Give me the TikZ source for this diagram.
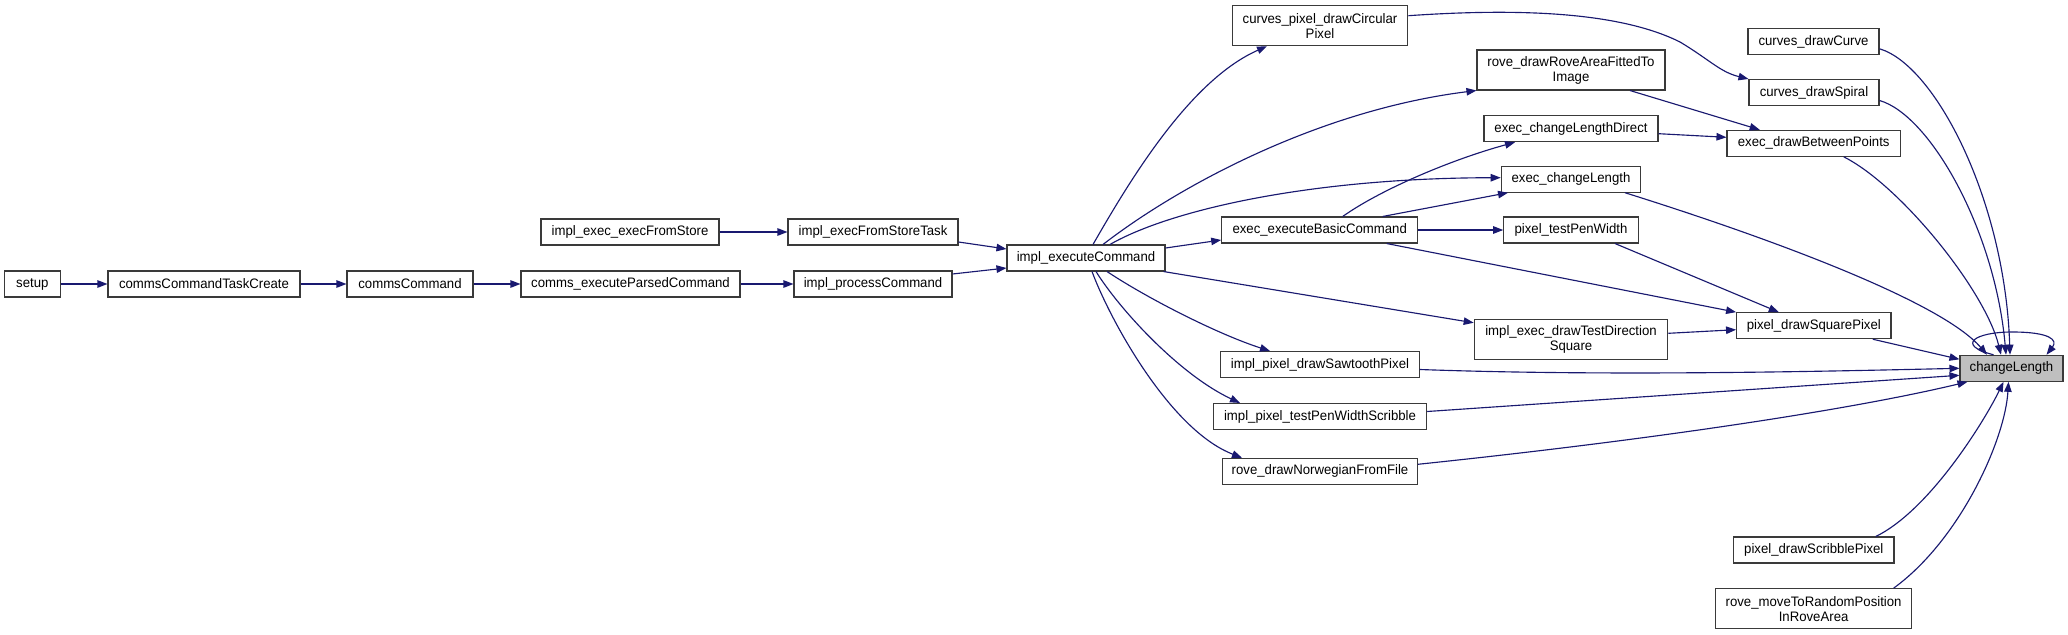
\documentclass[tikz,border=0pt]{standalone}
\usepackage{fontspec}
\setmainfont{Liberation Sans}[FakeStretch=0.96]
\usetikzlibrary{arrows.meta}
\definecolor{edgecol}{HTML}{191970}
\definecolor{boxcol}{HTML}{3A3A3A}
\definecolor{hlfill}{HTML}{BFBFBF}
\begin{document}
\begin{tikzpicture}[x=0.75pt,y=-0.75pt,
  box/.style 2 args={draw=boxcol,fill=white,line width=0.8pt,inner sep=0pt,
    minimum width=#1*0.75pt,minimum height=#2*0.75pt,align=center,
    font=\fontsize{10.3}{11.3}\selectfont},
  edge/.style={draw=edgecol,line width=0.85pt,
    -{Triangle[length=7.5pt,width=5.6pt,fill=edgecol]}}]
\useasboundingbox[fill=white] (0,0) rectangle (2068,635);

% nodes
\node[box={55.5}{26}] (su) at (32.3,284) {setup};
\node[box={192}{26}] (cct) at (204,284) {commsCommandTaskCreate};
\node[box={126}{26}] (cc) at (410,284) {commsCommand};
\node[box={219}{26}] (cepc) at (630.5,284) {comms\_executeParsedCommand};
\node[box={178}{26}] (ieefs) at (630,232) {impl\_exec\_execFromStore};
\node[box={170}{26}] (ifst) at (873,232) {impl\_execFromStoreTask};
\node[box={158}{26}] (ipc) at (873,284) {impl\_processCommand};
\node[box={158}{26}] (iec) at (1086,258) {impl\_executeCommand};
\node[box={175.6}{40}] (cpdc) at (1320,25.7) {curves\_pixel\_drawCircular\\Pixel};
\node[box={188}{40}] (rda) at (1571,70) {rove\_drawRoveAreaFittedTo\\Image};
\node[box={174}{26}] (ecld) at (1571,128.7) {exec\_changeLengthDirect};
\node[box={139.5}{26}] (ecl) at (1571,179.2) {exec\_changeLength};
\node[box={196}{26}] (eebc) at (1319.7,230) {exec\_executeBasicCommand};
\node[box={134.5}{26}] (ptw) at (1571,230) {pixel\_testPenWidth};
\node[box={193.6}{40}] (edts) at (1571,339.3) {impl\_exec\_drawTestDirection\\Square};
\node[box={198.3}{26}] (pds) at (1320,364.5) {impl\_pixel\_drawSawtoothPixel};
\node[box={213.4}{26}] (ptws) at (1320,416.5) {impl\_pixel\_testPenWidthScribble};
\node[box={194.6}{26}] (rdn) at (1320,471.3) {rove\_drawNorwegianFromFile};
\node[box={131}{26}] (cdc) at (1813.5,41.8) {curves\_drawCurve};
\node[box={130}{26}] (cds) at (1814,92.5) {curves\_drawSpiral};
\node[box={173.4}{26}] (edbp) at (1813.7,143.3) {exec\_drawBetweenPoints};
\node[box={154.4}{26}] (psq) at (1813.8,325.7) {pixel\_drawSquarePixel};
\node[box={160.3}{26}] (pscr) at (1813.8,550) {pixel\_drawScribblePixel};
\node[box={196}{40}] (rmr) at (1813.6,608.7) {rove\_moveToRandomPosition\\InRoveArea};
\node[box={103}{26},fill=hlfill] (cl) at (2011.5,368.3) {changeLength};

% left chain
\draw[edge] (su.east) -- (cct.west);
\draw[edge] (cct.east) -- (cc.west);
\draw[edge] (cc.east) -- (cepc.west);
\draw[edge] (cepc.east) -- (ipc.west);
\draw[edge] (ieefs.east) -- (ifst.west);
\draw[edge] ([shift={(0,10)}]ifst.east) -- ([shift={(0,-9)}]iec.west);
\draw[edge] ([shift={(0,-10)}]ipc.east) -- ([shift={(0,10)}]iec.west);

% from impl_executeCommand
\draw[edge] ([shift={(7,0)}]iec.north) .. controls (1130,180) and (1190,80) .. ([shift={(-53,0)}]cpdc.south);
\draw[edge] ([shift={(17,0)}]iec.north) .. controls (1180,185) and (1320,110) .. (rda.south west);
\draw[edge] ([shift={(24,0)}]iec.north) .. controls (1170,210) and (1310,178) .. ([shift={(0,-1.5)}]ecl.west);
\draw[edge] ([shift={(0,-10)}]iec.east) -- ([shift={(0,10)}]eebc.west);
\draw[edge] ([shift={(-2,0)}]iec.south east) -- ([shift={(0,4)}]edts.north west);
\draw[edge] ([shift={(21,0)}]iec.south) .. controls (1150,300) and (1220,335) .. ([shift={(-50,0)}]pds.north);
\draw[edge] ([shift={(10,0)}]iec.south) .. controls (1120,310) and (1180,375) .. ([shift={(-80,0)}]ptws.north);
\draw[edge] ([shift={(6,0)}]iec.south) .. controls (1110,320) and (1170,430) .. ([shift={(-78,0)}]rdn.north);

% from exec_executeBasicCommand
\draw[edge] ([shift={(23,0)}]eebc.north) .. controls (1380,190) and (1450,160) .. ([shift={(-56,0)}]ecld.south);
\draw[edge] ([shift={(63,0)}]eebc.north) -- ([shift={(-63,0)}]ecl.south);
\draw[edge] (eebc.east) -- (ptw.west);
\draw[edge] ([shift={(67,0)}]eebc.south) -- (psq.north west);

% middle column
\draw[edge] ([shift={(0,-10)}]cpdc.east) .. controls (1520,8) and (1620,12) .. (1680,42) .. controls (1710,60) and (1720,72) .. (cds.north west);
\draw[edge] ([shift={(59,0)}]rda.south) -- ([shift={(-54,0)}]edbp.north);
\draw[edge] ([shift={(0,5)}]ecld.east) -- ([shift={(0,-6)}]edbp.west);
\draw[edge] ([shift={(44,0)}]ptw.south) -- ([shift={(-35,0)}]psq.north);
\draw[edge] ([shift={(0,-6)}]edts.east) -- ([shift={(0,4)}]psq.west);

% into changeLength
\draw[edge] ([shift={(54,0)}]ecl.south) .. controls (1760,235) and (1940,300) .. ([shift={(-24.5,0)}]cl.north);
\draw[edge] ([shift={(30,0)}]edbp.south) .. controls (1900,185) and (1985,290) .. ([shift={(-10.5,0)}]cl.north);
\draw[edge] ([shift={(0,8)}]cds.east) .. controls (1930,115) and (1995,230) .. ([shift={(-5.5,0)}]cl.north);
\draw[edge] ([shift={(0,7)}]cdc.east) .. controls (1935,65) and (2005,200) .. ([shift={(-1.5,0)}]cl.north);
\draw[edge] ([shift={(59,0)}]psq.south) -- ([shift={(0,-9)}]cl.west);
\draw[edge] ([shift={(0,5)}]pds.east) .. controls (1600,376) and (1800,372) .. (cl.west);
\draw[edge] ([shift={(0,-5)}]ptws.east) -- ([shift={(0,7)}]cl.west);
\draw[edge] ([shift={(0,-7)}]rdn.east) .. controls (1650,440) and (1850,410) .. ([shift={(8,0)}]cl.south west);
\draw[edge] ([shift={(62,0)}]pscr.north) .. controls (1930,510) and (1985,420) .. ([shift={(-8,0)}]cl.south);
\draw[edge] ([shift={(80,0)}]rmr.north) .. controls (1960,540) and (2005,440) .. ([shift={(-3,0)}]cl.south);
\draw[edge] ([shift={(-18,0)}]cl.north) .. controls (1955,345) and (1975,332) .. (2012,332) .. controls (2050,332) and (2058,340) .. ([shift={(35,0)}]cl.north);
\end{tikzpicture}
\end{document}
